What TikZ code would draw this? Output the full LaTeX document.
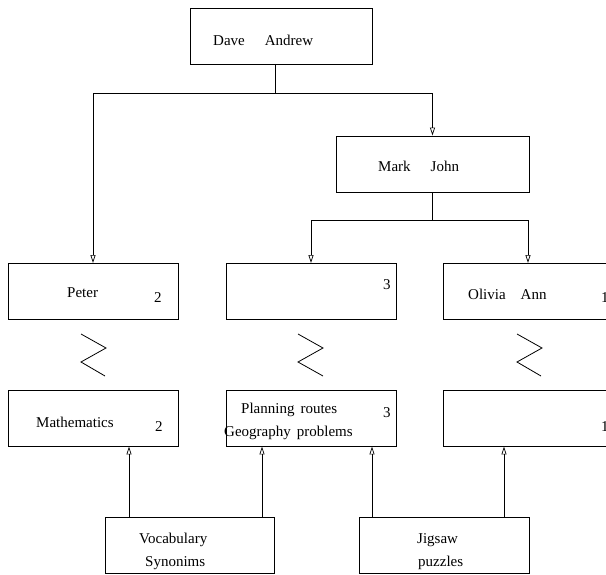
\documentclass[tikz,border=0pt]{standalone}
\usepackage{fontspec}
\setmainfont{Liberation Serif}
\usetikzlibrary{arrows.meta}
\begin{document}
\begin{tikzpicture}[x=1pt,y=-1pt,
  box/.style={draw,line width=0.9pt,minimum width=170pt,minimum height=56pt,inner sep=0pt},
  lbl/.style={anchor=base west,inner sep=0pt,font=\fontsize{15}{18}\selectfont},
  conn/.style={line width=0.9pt},
  arr/.style={line width=0.9pt,-{Triangle[open,width=5pt,length=8pt,line width=0.7pt]}},
  zz/.style={line width=0.8pt}]
\clip (0,0) rectangle (606,575);
\useasboundingbox (0,0) rectangle (606,575);
% boxes
\node[box,minimum width=182pt] (dave) at (281,36) {};
\node[box,minimum width=193pt] (mark) at (432.5,164) {};
\node[box] (peter) at (93,291.5) {};
\node[box] (mid) at (311,291.5) {};
\node[box] (olivia) at (528,291.5) {};
\node[box] (math) at (93,418) {};
\node[box] (plan) at (311,418) {};
\node[box] (right) at (528,418) {};
\node[box,minimum width=169pt] (vocab) at (189.5,545) {};
\node[box] (jig) at (444,545) {};
% labels
\node[lbl] (tdave) at (213,46) {Dave\hspace{20pt}Andrew};
\node[lbl] (tmark) at (378,172) {Mark\hspace{20pt}John};
\node[lbl] (tpeter) at (67,298) {Peter};
\node[lbl] (npeter) at (154,303) {2};
\node[lbl] (nmid) at (383,290) {3};
\node[lbl] (tolivia) at (468,300) {Olivia\hspace{15pt}Ann};
\node[lbl] (nolivia) at (601,303) {1};
\node[lbl] (tmath) at (36,427) {Mathematics};
\node[lbl] (nmath) at (155,431) {2};
\node[lbl] (tplan) at (241,413) {Planning\hspace{6pt}routes};
\node[lbl] (nplan) at (383,417) {3};
\node[lbl] (tgeo) at (224,436) {Geography\hspace{6pt}problems};
\node[lbl] (nright) at (601,431) {1};
\node[lbl] (tvoc) at (139,543) {Vocabulary};
\node[lbl] (tsyn) at (145,566) {Synonims};
\node[lbl] (tjig) at (417,543) {Jigsaw};
\node[lbl] (tpuz) at (418,566) {puzzles};
% connectors from top
\coordinate (dstem) at (275,64);
\coordinate (dbar) at (275,93);
\draw[conn] (dstem) -- (dbar);
\draw[arr] (dbar) -| (peter.north);
\draw[arr] (dbar) -| (mark.north);
\coordinate (mbar) at (432.5,220);
\draw[conn] (mark.south) -- (mbar);
\draw[arr] (mbar) -| (mid.north);
\draw[arr] (mbar) -| (olivia.north);
% connectors from bottom
\coordinate (v1) at (129,517);
\coordinate (v2) at (262,517);
\coordinate (j1) at (372,517);
\coordinate (j2) at (504,517);
\draw[arr] (v1) -- (v1 |- math.south);
\draw[arr] (v2) -- (v2 |- plan.south);
\draw[arr] (j1) -- (j1 |- plan.south);
\draw[arr] (j2) -- (j2 |- right.south);
% zigzags
\draw[zz] (81,334) -- (106,348) -- (81,362) -- (105,376);
\draw[zz] (298,334) -- (323,348) -- (298,362) -- (323,376);
\draw[zz] (517,334) -- (542,348) -- (517,362) -- (541,376);
\end{tikzpicture}
\end{document}
